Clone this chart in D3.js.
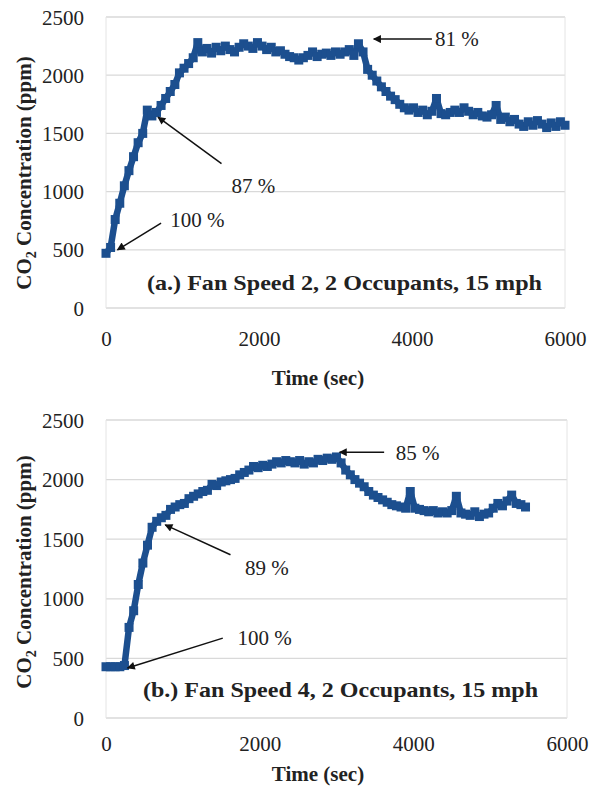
<!DOCTYPE html>
<html>
<head>
<meta charset="utf-8">
<script src="https://cdn.jsdelivr.net/npm/d3@7"></script>
<style>
  body { margin: 0; background: #fff; }
  svg text { font-family: "Liberation Serif", "Times New Roman", serif; fill: #222; }
</style>
</head>
<body>
<div id="chart"></div>
<script>
// panel (a.) fan speed 2 - time (sec) and CO2 (ppm)
var timeA = [0,60,120,180,240,300,360,420,480,540,600,660,720,780,840,900,960,1020,1080,1140,
  1200,1260,1320,1380,1440,1500,1560,1620,1680,1740,1800,1860,1920,1980,2040,2100,2160,2220,2280,2340,
  2400,2460,2520,2580,2640,2700,2760,2820,2880,2940,3000,3060,3120,3180,3240,3300,3360,3420,3480,3540,
  3600,3660,3720,3780,3840,3900,3960,4020,4080,4140,4200,4260,4320,4380,4440,4500,4560,4620,4680,4740,
  4800,4860,4920,4980,5040,5100,5160,5220,5280,5340,5400,5460,5520,5580,5640,5700,5760,5820,5880,5940,6000];
var co2A = [470,520,760,900,1050,1180,1300,1420,1500,1700,1650,1680,1740,1800,1860,1920,2020,2060,2100,2150,
  2280,2200,2230,2190,2240,2210,2250,2220,2200,2240,2270,2250,2230,2280,2250,2220,2240,2200,2210,2180,
  2160,2150,2130,2150,2170,2200,2160,2180,2190,2170,2200,2180,2200,2220,2170,2270,2200,2050,2000,1950,
  1900,1860,1820,1790,1750,1720,1700,1720,1680,1700,1660,1690,1800,1670,1660,1680,1700,1680,1720,1690,
  1660,1680,1650,1640,1660,1740,1620,1640,1600,1620,1580,1560,1600,1570,1610,1580,1550,1590,1560,1600,1570];

// panel (b.) fan speed 4
var timeB = [0,60,120,180,240,300,360,420,480,540,600,660,720,780,840,900,960,1020,1080,1140,
  1200,1260,1320,1380,1440,1500,1560,1620,1680,1740,1800,1860,1920,1980,2040,2100,2160,2220,2280,2340,
  2400,2460,2520,2580,2640,2700,2760,2820,2880,2940,3000,3060,3120,3180,3240,3300,3360,3420,3480,3540,
  3600,3660,3720,3780,3840,3900,3960,4020,4080,4140,4200,4260,4320,4380,4440,4500,4560,4620,4680,4740,
  4800,4860,4920,4980,5040,5100,5160,5220,5280,5340,5400,5460];
var co2B = [430,430,430,430,440,760,900,1120,1300,1450,1600,1650,1680,1700,1750,1770,1790,1800,1840,1860,
  1880,1900,1910,1960,1950,1980,1990,2000,2010,2040,2060,2080,2110,2100,2120,2110,2130,2150,2140,2160,
  2150,2140,2160,2130,2150,2140,2170,2160,2180,2170,2190,2140,2080,2040,2000,1970,1940,1900,1870,1850,
  1830,1810,1790,1780,1770,1760,1900,1760,1750,1740,1730,1740,1720,1730,1720,1740,1860,1720,1710,1700,
  1730,1690,1710,1720,1760,1800,1780,1820,1870,1800,1790,1770];

var xTicks = [0, 2000, 4000, 6000];
var yTicks = [0, 500, 1000, 1500, 2000, 2500];

// annotation: text, arrow tail and tip in data units, text position in data units
var notesA = [
  { label: "100 %", tail: [720, 730], tip: [150, 500], at: [840, 760] },
  { label: "87 %",  tail: [1510, 1240], tip: [680, 1640], at: [1640, 1050] },
  { label: "81 %",  tail: [4260, 2310], tip: [3500, 2310], at: [4300, 2310] }
];
var notesB = [
  { label: "100 %", tail: [1520, 670], tip: [280, 420], at: [1710, 670] },
  { label: "89 %",  tail: [1620, 1370], tip: [770, 1620], at: [1810, 1260] },
  { label: "85 %",  tail: [3620, 2230], tip: [3040, 2230], at: [3770, 2230] }
];

var W = 593, H = 795;
var blue = "#1c4f8f";

var svg = d3.select("#chart").append("svg")
  .attr("width", W).attr("height", H);

svg.append("defs").append("marker")
  .attr("id", "head")
  .attr("viewBox", "0 0 10 10")
  .attr("refX", 9).attr("refY", 5)
  .attr("markerWidth", 10).attr("markerHeight", 8)
  .attr("markerUnits", "userSpaceOnUse")
  .attr("orient", "auto")
  .append("path").attr("d", "M0,0 L10,5 L0,10 z").attr("fill", "#111");

function drawPanel(p) {
  var x = d3.scaleLinear().domain([0, 6000]).range([p.left, p.right]);
  var y = d3.scaleLinear().domain([0, 2500]).range([p.bottom, p.top]);
  var g = svg.append("g");

  // gridlines + frame
  g.selectAll(".grid").data(yTicks).enter().append("line")
    .attr("x1", p.left).attr("x2", p.right)
    .attr("y1", function (d) { return y(d); }).attr("y2", function (d) { return y(d); })
    .attr("stroke", "#d9d9d9").attr("stroke-width", 1.3);
  g.append("line").attr("x1", p.left).attr("x2", p.left).attr("y1", p.top).attr("y2", p.bottom)
    .attr("stroke", "#e4e4e4");
  g.append("line").attr("x1", p.right).attr("x2", p.right).attr("y1", p.top).attr("y2", p.bottom)
    .attr("stroke", "#e4e4e4");

  // axes (labels only)
  var yAxis = g.append("g").attr("transform", "translate(" + (p.left - 22) + ",0)")
    .call(d3.axisLeft(y).tickValues(yTicks).tickFormat(d3.format("d")).tickSize(0).tickPadding(0));
  var xAxis = g.append("g").attr("transform", "translate(0," + (p.bottom + p.xLab) + ")")
    .call(d3.axisBottom(x).tickValues(xTicks).tickFormat(d3.format("d")).tickSize(0).tickPadding(0));
  [xAxis, yAxis].forEach(function (a) {
    a.select(".domain").remove();
    a.selectAll("text").style("font-family", "Liberation Serif").style("font-size", "21px").attr("fill", "#333");
  });
  xAxis.selectAll("text").attr("dy", "0.35em");
  yAxis.selectAll("text").attr("dy", "0.34em");

  // series
  var pts = p.t.map(function (d, i) { return [d, p.v[i]]; });
  var line = d3.line().x(function (d) { return x(d[0]); }).y(function (d) { return y(d[1]); });
  g.append("path").datum(pts).attr("d", line)
    .attr("fill", "none").attr("stroke", blue).attr("stroke-width", 6.5).attr("stroke-linejoin", "round");
  g.selectAll(".pt").data(pts).enter().append("rect")
    .attr("x", function (d) { return x(d[0]) - 4.5; })
    .attr("y", function (d) { return y(d[1]) - 4.5; })
    .attr("width", 9).attr("height", 9).attr("fill", blue);

  // annotations
  p.notes.forEach(function (n) {
    g.append("line")
      .attr("x1", x(n.tail[0])).attr("y1", y(n.tail[1]))
      .attr("x2", x(n.tip[0])).attr("y2", y(n.tip[1]))
      .attr("stroke", "#111").attr("stroke-width", 1.5)
      .attr("marker-end", "url(#head)");
    g.append("text").attr("x", x(n.at[0])).attr("y", y(n.at[1])).attr("dy", "0.35em")
      .style("font-size", "21px").attr("fill", "#333").text(n.label);
  });

  // panel caption
  g.append("text").attr("x", p.capX).attr("y", p.capY).attr("dy", "0.35em")
    .style("font-size", "21px").style("font-weight", "bold").attr("fill", "#111")
    .attr("textLength", 395).attr("lengthAdjust", "spacingAndGlyphs")
    .text(p.caption);

  // axis titles
  g.append("text").attr("x", 318).attr("y", p.bottom + p.xTitle).attr("text-anchor", "middle").attr("dy", "0.35em")
    .style("font-size", "21px").style("font-weight", "bold").attr("fill", "#111").text("Time (sec)");
  var yt = g.append("text")
    .attr("transform", "translate(24," + p.yTitle + ") rotate(-90)")
    .attr("text-anchor", "middle").attr("dy", "0.35em")
    .style("font-size", "21px").style("font-weight", "bold").attr("fill", "#111");
  yt.append("tspan").text("CO");
  yt.append("tspan").attr("dy", "5").style("font-size", "14px").text("2");
  yt.append("tspan").attr("dy", "-5").text(" Concentration (ppm)");
}

drawPanel({ left: 106, right: 565, top: 17, bottom: 308, t: timeA, v: co2A, notes: notesA,
  caption: "(a.) Fan Speed 2, 2 Occupants, 15 mph", capX: 147, capY: 283,
  xLab: 31, xTitle: 70, yTitle: 173 });
drawPanel({ left: 106, right: 567, top: 420, bottom: 718, t: timeB, v: co2B, notes: notesB,
  caption: "(b.) Fan Speed 4, 2 Occupants, 15 mph", capX: 143, capY: 690,
  xLab: 26, xTitle: 56, yTitle: 572 });
</script>
</body>
</html>
